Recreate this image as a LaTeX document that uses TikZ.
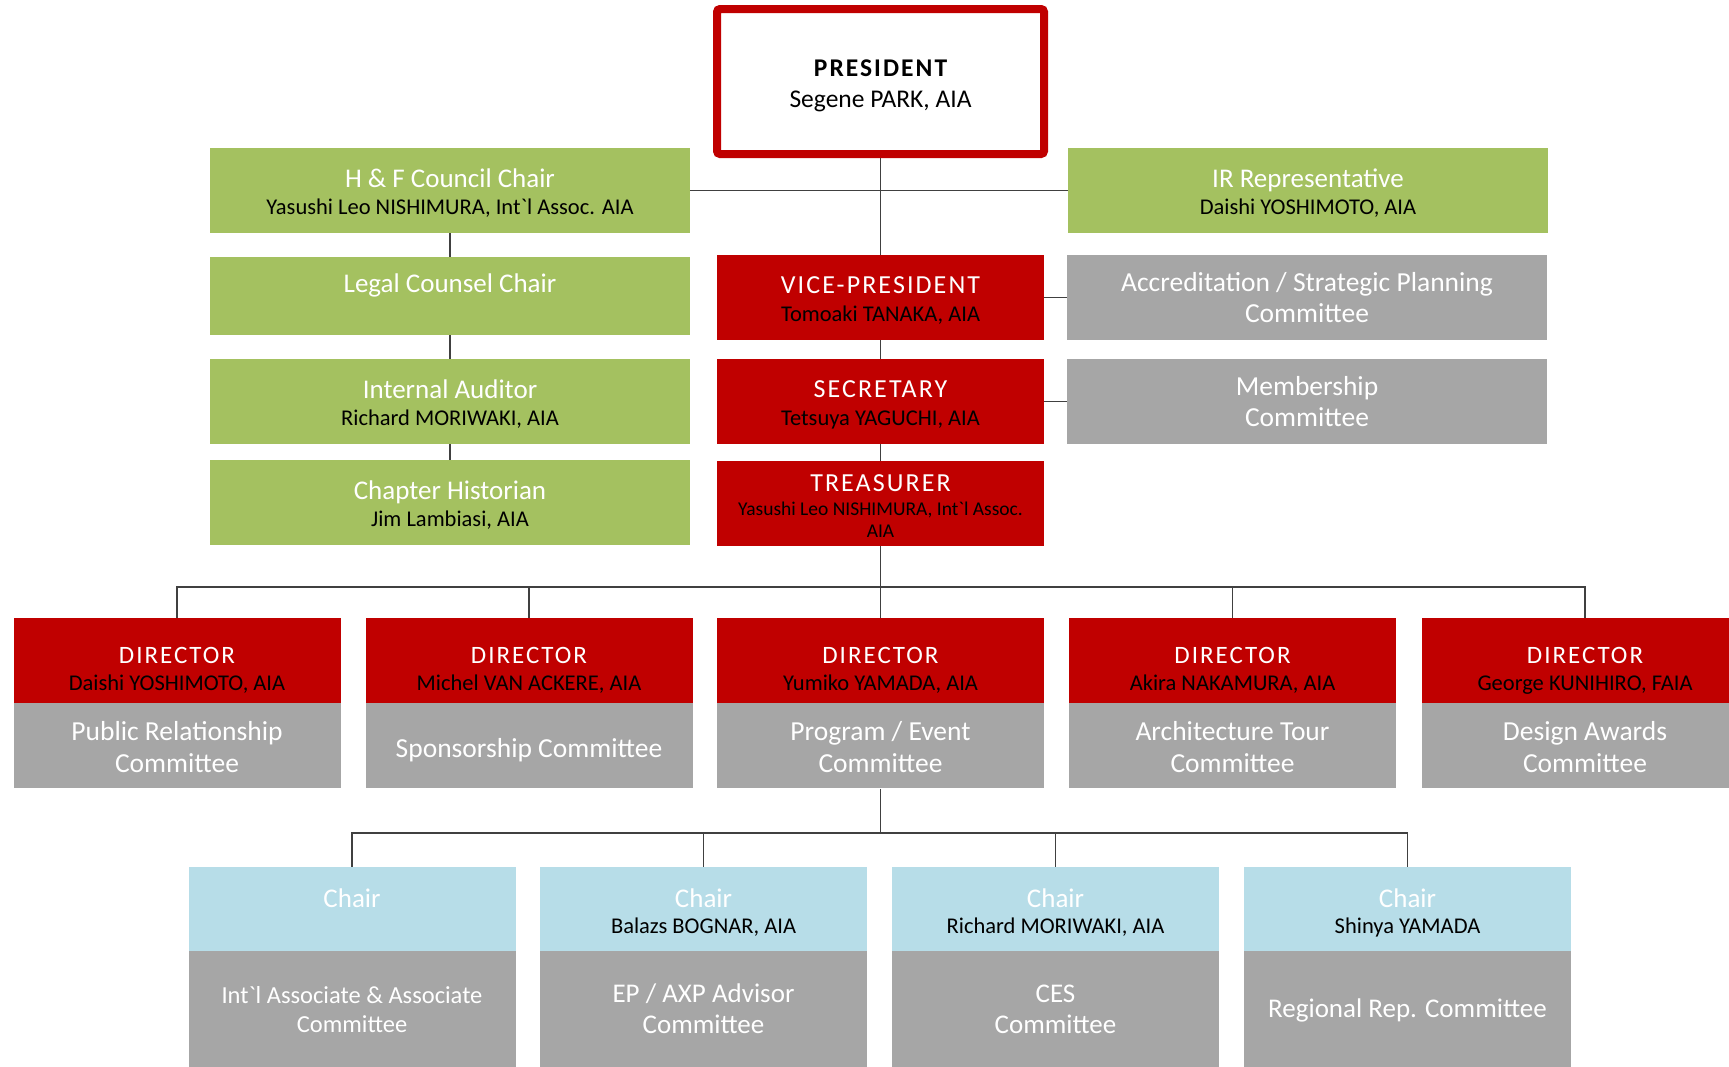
\documentclass[tikz,border=0pt]{standalone}
\usepackage{fontspec}
\setmainfont{Carlito}
\usetikzlibrary{positioning}
\definecolor{chartred}{HTML}{C00000}
\definecolor{chartgreen}{HTML}{A4C160}
\definecolor{chartgray}{HTML}{A6A6A6}
\definecolor{chartblue}{HTML}{B7DDE8}
\definecolor{chartline}{HTML}{404040}
\newcommand{\who}[1]{{\color{black}\fontsize{22.5}{25}\selectfont #1}}
\newcommand{\spaced}[1]{{\addfontfeatures{LetterSpace=8}#1}}
\tikzset{
  orgbox/.style={rectangle, inner sep=0pt, align=center, minimum width=327pt, minimum height=85pt, text=white, text height=47pt, text depth=0pt},
  presbox/.style={orgbox, draw=chartred, line width=8pt, fill=white, text=black, minimum height=145pt, rounded corners=3pt, font=\fontsize{25.5}{31}\selectfont, text height=51pt},
  councilbox/.style={orgbox, fill=chartgreen, minimum width=480pt, font=\fontsize{27}{27}\selectfont},
  officerbox/.style={orgbox, fill=chartred, font=\fontsize{26}{28}\selectfont},
  sidebox/.style={orgbox, fill=chartgray, minimum width=480pt, font=\fontsize{27.5}{31.5}\selectfont, text height=50pt},
  directorbox/.style={orgbox, fill=chartred, font=\fontsize{25}{27}\selectfont, text height=59pt},
  committeebox/.style={orgbox, fill=chartgray, font=\fontsize{27.5}{32}\selectfont, text height=53pt},
  chairbox/.style={orgbox, fill=chartblue, minimum height=84pt, font=\fontsize{27}{26}\selectfont, text height=48pt},
  subbox/.style={orgbox, fill=chartgray, minimum height=119pt, font=\fontsize{27}{31}\selectfont, text height=45pt},
  link/.style={draw=chartline, line width=1.2pt}
}
\begin{document}
\begin{tikzpicture}[x=1pt, y=-1pt]
  \useasboundingbox (0,0) rectangle (1729,1066);
  \clip (0,0) rectangle (1729,1066);

  % top of the chart
  \node [presbox] (pres) at (880.5,81.5) {{\bfseries\spaced{PRESIDENT}}\\Segene PARK, AIA};

  \node [councilbox] (hf) at (450,190.5) {H \& F Council Chair\\\who{Yasushi Leo NISHIMURA, Int\textasciigrave l Assoc. AIA}};
  \node [councilbox, minimum height=78pt] (legal) at (450,296) {Legal Counsel Chair\\\who{\vphantom{Ay}}};
  \node [councilbox] (audit) at (450,401.5) {Internal Auditor\\\who{Richard MORIWAKI, AIA}};
  \node [councilbox] (hist) at (450,502.5) {Chapter Historian\\\who{Jim Lambiasi, AIA}};
  \node [councilbox] (ir) at (1308,190.5) {IR Representative\\\who{Daishi YOSHIMOTO, AIA}};

  \node [officerbox] (vp) at (880.5,297.5) {\spaced{VICE-PRESIDENT}\\\who{Tomoaki TANAKA, AIA}};
  \node [officerbox] (sec) at (880.5,401.5) {\spaced{SECRETARY}\\\who{Tetsuya YAGUCHI, AIA}};
  \node [officerbox, font=\fontsize{26}{22}\selectfont, text height=67pt] (tre) at (880.5,503.5)
    {\spaced{TREASURER}\\[2pt]{\color{black}\fontsize{19.5}{22}\selectfont Yasushi Leo NISHIMURA, Int\textasciigrave l Assoc.}\\{\color{black}\fontsize{19.5}{22}\selectfont AIA}};

  \node [sidebox] (accr) at (1307,297.5) {Accreditation / Strategic Planning\\Committee};
  \node [sidebox] (memb) at (1307,401.5) {Membership\\Committee};

  % directors
  \node [directorbox] (d1) at (177,660.5) {\spaced{DIRECTOR}\\\who{Daishi YOSHIMOTO, AIA}};
  \node [directorbox] (d2) at (529,660.5) {\spaced{DIRECTOR}\\\who{Michel VAN ACKERE, AIA}};
  \node [directorbox] (d3) at (880.5,660.5) {\spaced{DIRECTOR}\\\who{Yumiko YAMADA, AIA}};
  \node [directorbox] (d4) at (1232.5,660.5) {\spaced{DIRECTOR}\\\who{Akira NAKAMURA, AIA}};
  \node [directorbox] (d5) at (1585,660.5) {\spaced{DIRECTOR}\\\who{George KUNIHIRO, FAIA}};
  \node [committeebox, below=0pt of d1] (d1c) {Public Relationship\\Committee};
  \node [committeebox, below=0pt of d2, text height=23pt] (d2c) {Sponsorship Committee};
  \node [committeebox, below=0pt of d3] (d3c) {Program / Event\\Committee};
  \node [committeebox, below=0pt of d4] (d4c) {Architecture Tour\\Committee};
  \node [committeebox, below=0pt of d5] (d5c) {Design Awards\\Committee};

  % chairs
  \node [chairbox] (c1) at (352,909) {Chair\\\who{\vphantom{Ay}}};
  \node [chairbox] (c2) at (703.5,909) {Chair\\\who{Balazs BOGNAR, AIA}};
  \node [chairbox] (c3) at (1055.5,909) {Chair\\\who{Richard MORIWAKI, AIA}};
  \node [chairbox] (c4) at (1407.5,909) {Chair\\\who{Shinya YAMADA}};
  \node [subbox, below=0pt of c1, font=\fontsize{24.5}{29}\selectfont, text height=43pt] (c1c) {Int\textasciigrave l Associate \& Associate\\Committee};
  \node [subbox, below=0pt of c2] (c2c) {EP / AXP Advisor\\Committee};
  \node [subbox, below=0pt of c3] (c3c) {CES\\Committee};
  \node [subbox, below=0pt of c4, text height=13pt] (c4c) {Regional Rep. Committee};

  \coordinate (dbus) at (880.5,587);
  \coordinate (cbus) at (880.5,833);

  % connectors
  \draw [link] (pres.south) -- (vp.north);
  \draw [link] (vp.south) -- (sec.north);
  \draw [link] (sec.south) -- (tre.north);
  \draw [link] (tre.south) -- (d3.north);
  \draw [link] (hf.east) -- (ir.west);
  \draw [link] (hf.south) -- (legal.north);
  \draw [link] (legal.south) -- (audit.north);
  \draw [link] (audit.south) -- (hist.north);
  \draw [link] (vp.east) -- (accr.west);
  \draw [link] (sec.east) -- (memb.west);
  \draw [link] (d1.north) |- (dbus) -| (d5.north);
  \draw [link] (d2.north) -- (d2.north |- dbus);
  \draw [link] (d4.north) -- (d4.north |- dbus);
  \draw [link] (d3c.south) -- (cbus);
  \draw [link] (c1.north) |- (cbus) -| (c4.north);
  \draw [link] (c2.north) -- (c2.north |- cbus);
  \draw [link] (c3.north) -- (c3.north |- cbus);
\end{tikzpicture}
\end{document}
